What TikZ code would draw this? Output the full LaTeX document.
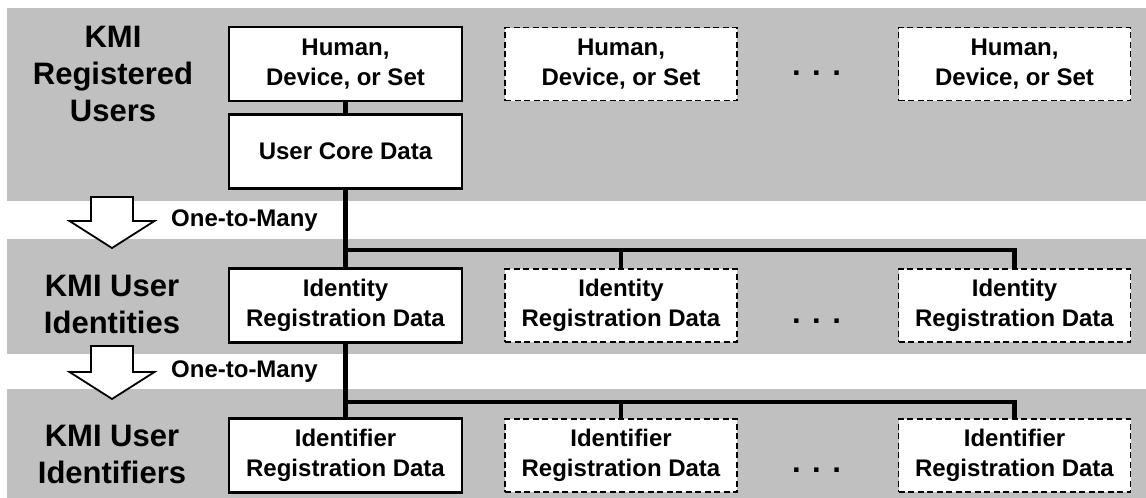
\documentclass[tikz,border=0pt]{standalone}
\usepackage{fontspec}
\setmainfont{Liberation Sans}
\definecolor{bandgray}{RGB}{192,192,192}
\newcommand\boxfont{\fontsize{24}{30}\selectfont\bfseries}
\newcommand\tierfont{\fontsize{31}{37}\selectfont\bfseries}
\begin{document}
\begin{tikzpicture}[x=1pt,y=-1pt,
  band/.style={fill=bandgray},
  databox/.style={draw=black, line width=1.6pt, fill=white, minimum width=232pt,
    minimum height=73pt, inner sep=0pt, align=center, font=\boxfont},
  extrabox/.style={databox, dash pattern=on 6pt off 3.5pt},
  tierlabel/.style={align=center, font=\tierfont, inner sep=0pt},
  link/.style={line width=4.5pt, line join=miter},
  ellipsis/.style={font=\tierfont, inner sep=0pt, anchor=base},
  blockarrow/.style={draw=black, line width=1.8pt, fill=white, line join=miter},
  mult/.style={font=\boxfont, inner sep=0pt, anchor=base}]

\useasboundingbox (0,0) rectangle (1146,498);

% tier bands
\fill[band] (7,8) rectangle (1146,201);
\fill[band] (7,239) rectangle (1146,354);
\fill[band] (7,389) rectangle (1146,498);

% tier labels
\node[tierlabel] (tier1) at (113,73.5) {KMI\\Registered\\Users};
\node[tierlabel] (tier2) at (112,304.5) {KMI User\\Identities};
\node[tierlabel] (tier3) at (112,454.5) {KMI User\\Identifiers};

% registered users
\node[databox]  (h1) at (345.5,64) {Human,\\Device, or Set};
\node[extrabox] (h2) at (621,64) {Human,\\Device, or Set};
\node[extrabox] (h3) at (1014.5,64) {Human,\\Device, or Set};
\node[ellipsis] (dots1) at (816.5,75) {. . .};
\node[databox]  (ucd) at (345.5,151.5) {User Core Data};

% identities
\node[databox]  (id1) at (345.5,305.5) {Identity\\Registration Data};
\node[extrabox] (id2) at (621,305.5) {Identity\\Registration Data};
\node[extrabox] (id3) at (1014.5,305.5) {Identity\\Registration Data};
\node[ellipsis] (dots2) at (816.5,323) {. . .};

% identifiers
\node[databox]  (if1) at (345.5,455.5) {Identifier\\Registration Data};
\node[extrabox] (if2) at (621,455.5) {Identifier\\Registration Data};
\node[extrabox] (if3) at (1014.5,455.5) {Identifier\\Registration Data};
\node[ellipsis] (dots3) at (816.5,472.5) {. . .};

% one-to-many connectors
\coordinate (fork1) at (345.5,250);
\coordinate (fork2) at (345.5,402);
\draw[link] (h1.south) -- (ucd.north);
\draw[link] (ucd.south) -- (id1.north);
\draw[link] (fork1) -| (id2.north);
\draw[link] (fork1) -| (id3.north);
\draw[link] (id1.south) -- (if1.north);
\draw[link] (fork2) -| (if2.north);
\draw[link] (fork2) -| (if3.north);

% redraw box outlines over the line ends
\foreach \b in {h1,ucd,id1,if1}
  \draw[line width=1.6pt] (\b.north west) rectangle (\b.south east);

% block arrows between tiers
\draw[blockarrow] (91,197) -- (133,197) -- (133,221) -- (154.5,221) -- (112,248)
  -- (69.5,221) -- (91,221) -- cycle;
\draw[blockarrow] (91,346) -- (133,346) -- (133,372) -- (154.5,372) -- (112,399)
  -- (69.5,372) -- (91,372) -- cycle;
\node[mult] (m1) at (244.5,226) {One-to-Many};
\node[mult] (m2) at (244.5,377) {One-to-Many};
\end{tikzpicture}
\end{document}
